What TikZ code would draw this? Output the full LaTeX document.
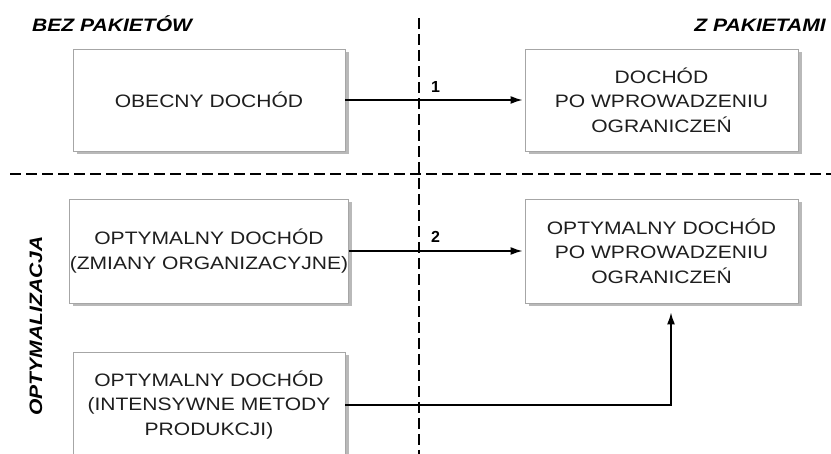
\documentclass[tikz,border=0pt]{standalone}
\usepackage{fontspec}
\setmainfont{Liberation Sans}
\newfontfamily\boxfont[FakeStretch=1.17]{Liberation Sans}
\usetikzlibrary{arrows.meta,shadows}
\definecolor{txt}{HTML}{1E1E1E}
\tikzset{
  boxnode/.style={draw=gray!70, line width=0.9pt, fill=white, text=txt,
    minimum width=272pt, align=center, inner sep=0pt,
    font=\boxfont\fontsize{18}{24.5}\selectfont,
    drop shadow={shadow xshift=3.5pt, shadow yshift=-3.5pt, fill=gray!55, opacity=1}},
  heading/.style={font=\boxfont\bfseries\itshape\fontsize{18}{20}\selectfont, text=black, inner sep=0pt},
  numlabel/.style={font=\bfseries\fontsize{16}{18}\selectfont, text=black, inner sep=0pt},
  sepline/.style={dash pattern=on 11pt off 5pt, line width=1.3pt, black},
  conn/.style={line width=1.5pt, -{Latex[length=12pt,width=8pt]}}
}
\begin{document}
\begin{tikzpicture}[x=1pt,y=-1pt]
\useasboundingbox (0,0) rectangle (831,454);
\clip (0,0) rectangle (831,454);
\fill[white] (0,0) rectangle (831,454);
% separators
\coordinate (hl) at (10,174);
\coordinate (hr) at (831,174);
\coordinate (vt) at (419,18);
\coordinate (vb) at (419,454);
\draw[sepline] (hl) -- (hr);
\draw[sepline] (vt) -- (vb);
% headings
\node[heading, anchor=base west] (h1) at (32,32) {BEZ PAKIETÓW};
\node[heading, anchor=base east] (h2) at (826,32) {Z PAKIETAMI};
\node[heading, rotate=90, anchor=base] (h3) at (42,326) {OPTYMALIZACJA};
% boxes
\node[boxnode, minimum height=102pt] (b1) at (209,100) {OBECNY DOCHÓD};
\node[boxnode, minimum height=102pt, minimum width=273pt] (b2) at (661.5,100) {DOCHÓD\\PO WPROWADZENIU\\OGRANICZEŃ};
\node[boxnode, minimum height=104pt] (b3) at (209,251) {OPTYMALNY DOCHÓD\\(ZMIANY ORGANIZACYJNE)};
\node[boxnode, minimum height=104pt, minimum width=273pt] (b5) at (661.5,251) {OPTYMALNY DOCHÓD\\PO WPROWADZENIU\\OGRANICZEŃ};
\node[boxnode, minimum height=106pt] (b4) at (209,405) {OPTYMALNY DOCHÓD\\(INTENSYWNE METODY\\PRODUKCJI)};
% connectors
\draw[conn, shorten >=2pt] (b1.east) -- (b2.west);
\draw[conn, shorten >=2pt] (b3.east) -- (b5.west);
\draw[conn, shorten >=9pt] (b4.east) -| ([xshift=9.5pt]b5.south);
% labels
\node[numlabel, anchor=base west] (l1) at (431,93) {1};
\node[numlabel, anchor=base west] (l2) at (431,243) {2};
\end{tikzpicture}
\end{document}
